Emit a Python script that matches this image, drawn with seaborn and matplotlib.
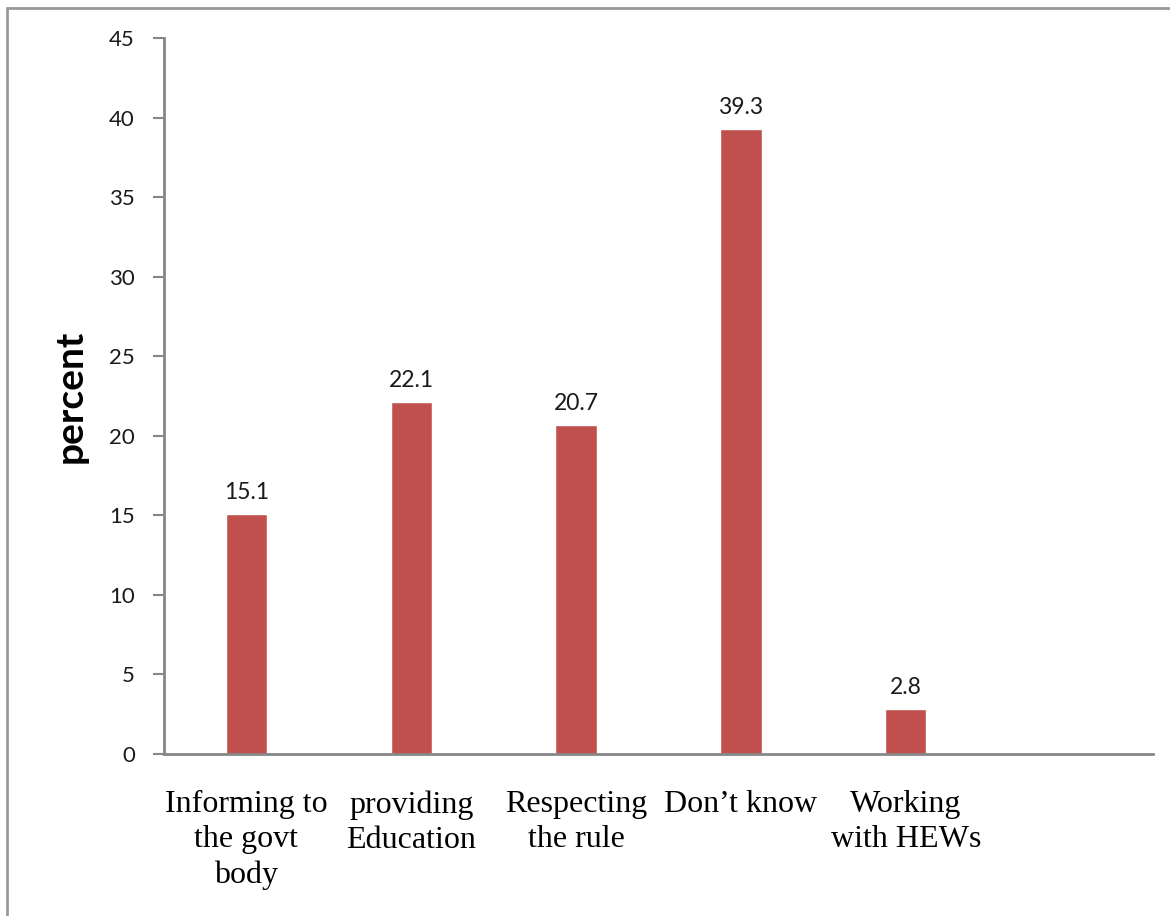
import matplotlib
matplotlib.use("Agg")
import matplotlib.pyplot as plt
import seaborn as sns
import pandas as pd
from matplotlib.patches import Rectangle

categories = ["Informing to\nthe govt\nbody", "providing\nEducation", "Respecting\nthe rule",
              "Don\u2019t know", "Working\nwith HEWs"]
slots = categories + [" "]
percent = [15.1, 22.1, 20.7, 39.3, 2.8]
yticks = [0, 5, 10, 15, 20, 25, 30, 35, 40, 45]

df = pd.DataFrame({"category": categories, "percent": percent})

sns.set_theme(style="white")
plt.rcParams["font.family"] = ["Lato", "DejaVu Sans"]

fig = plt.figure(figsize=(11.7, 9.16), dpi=100)
ax = fig.add_axes([164 / 1170, 1 - 754 / 916, (1153 - 164) / 1170, (754 - 38) / 916])

sns.barplot(data=df, x="category", y="percent", order=slots, color="#C0504D",
            saturation=1, width=0.25, ax=ax)

ax.set_ylim(0, 45)
ax.set_xlim(-0.5, len(slots) - 0.5)
ax.set_yticks(yticks)
ax.set_yticklabels([str(v) for v in yticks], fontsize=16, color="#1a1a1a")

ax.set_xticks(range(len(slots)))
ax.set_xticklabels(slots, fontsize=23, family="Liberation Serif", color="black",
                   linespacing=1.28)
ax.tick_params(axis="x", length=0, pad=26)
ax.tick_params(axis="y", length=8, width=1.5, color="#868686", direction="out", pad=13, left=True)

for side in ["top", "right"]:
    ax.spines[side].set_visible(False)
for side in ["left", "bottom"]:
    ax.spines[side].set_color("#868686")
    ax.spines[side].set_linewidth(2)

ax.set_xlabel("")
ax.set_ylabel("percent", fontsize=28, fontweight="bold", color="black")
ax.yaxis.set_label_coords(-76 / 989, 0.5)

for cont in ax.containers:
    ax.bar_label(cont, fmt="%.1f", padding=8, fontsize=16.5, color="#1a1a1a")

# outer chart frame
fig.patches.append(Rectangle((7 / 1170, -0.1), 1.2, 1 - 8 / 916 + 0.1,
                             transform=fig.transFigure, fill=False,
                             edgecolor="#9a9a9a", linewidth=2, zorder=0))

fig.savefig("out.png", dpi=100)
